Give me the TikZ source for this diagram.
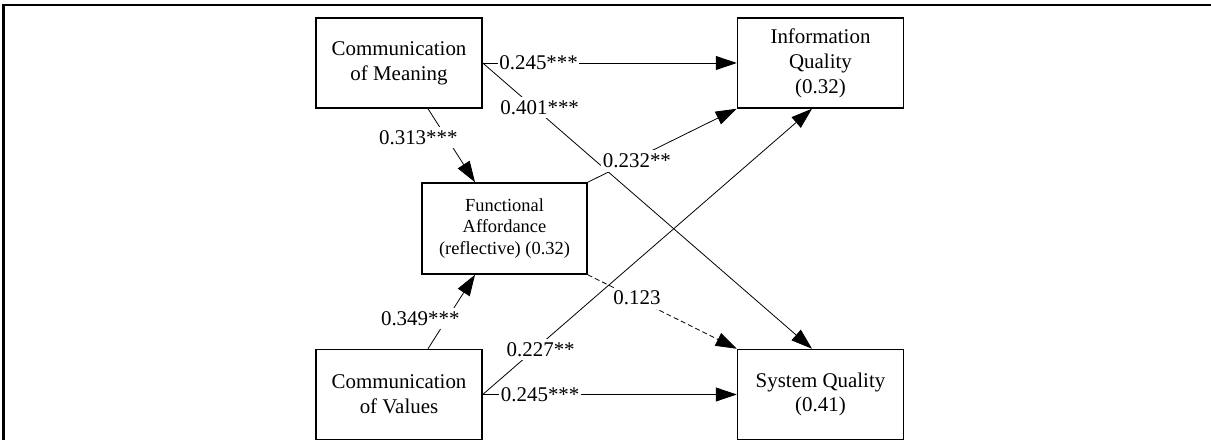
\documentclass[tikz,border=0pt]{standalone}
\usepackage{fontspec}
\setmainfont{Liberation Serif}
\usetikzlibrary{arrows.meta}
\begin{document}
\begin{tikzpicture}[x=1bp,y=-1bp,
  construct/.style={draw, line width=1.5bp, minimum width=166bp, minimum height=90bp,
    align=center, inner sep=0pt, font=\fontsize{21}{25}\selectfont},
  smallconstruct/.style={construct, minimum width=165bp, minimum height=91bp,
    font=\fontsize{18.5}{22}\selectfont},
  link/.style={line width=0.8bp, -{Triangle[length=21bp,width=14bp]}},
  weaklink/.style={link, dash pattern=on 5bp off 3bp},
  coef/.style={fill=white, inner xsep=1.5bp, inner ysep=3.5bp,
    font=\fontsize{21}{25}\selectfont},
]
\useasboundingbox (0,0) rectangle (1211,440);

% frame edges
\draw[line width=2.4bp, line join=miter] (3.7,445) -- (3.7,5) -- (1215,5);

% constructs
\node[construct] (com) at (399,63) {Communication\\of Meaning};
\node[construct] (iq) at (820.5,63) {Information\\Quality\\(0.32)};
\node[smallconstruct] (fa) at (504.5,228.5) {Functional\\Affordance\\(reflective) (0.32)};
\node[construct] (cov) at (399,394.5) {Communication\\of Values};
\node[construct] (sq) at (820.5,394.5) {System Quality\\(0.41)};

% structural paths with coefficients
\draw[link] (com.east) -- node[coef, pos=0.22] {0.245***} (iq.west);
\draw[link] (com.east) -- node[coef, pos=0.173, yshift=5bp] {0.401***} ([xshift=-8.5bp]sq.north);
\draw[link] ([xshift=29bp]com.south) -- node[coef, pos=0.39, xshift=-28bp] {0.313***} ([xshift=-29.5bp]fa.north);
\draw[link] ([xshift=29bp]cov.north) -- node[coef, pos=0.41, xshift=-27bp] {0.349***} ([xshift=-29.5bp]fa.south);
\draw[link] (fa.north east) -- node[coef, pos=0.33, yshift=-3bp] {0.232**} (iq.south west);
\draw[weaklink] (fa.south east) -- node[coef, pos=0.33, yshift=1bp] {0.123} (sq.north west);
\draw[link] (cov.east) -- node[coef, pos=0.176, yshift=-5bp] {0.227**} ([xshift=-8.5bp]iq.south);
\draw[link] (cov.east) -- node[coef, pos=0.226] {0.245***} (sq.west);
\end{tikzpicture}
\end{document}
